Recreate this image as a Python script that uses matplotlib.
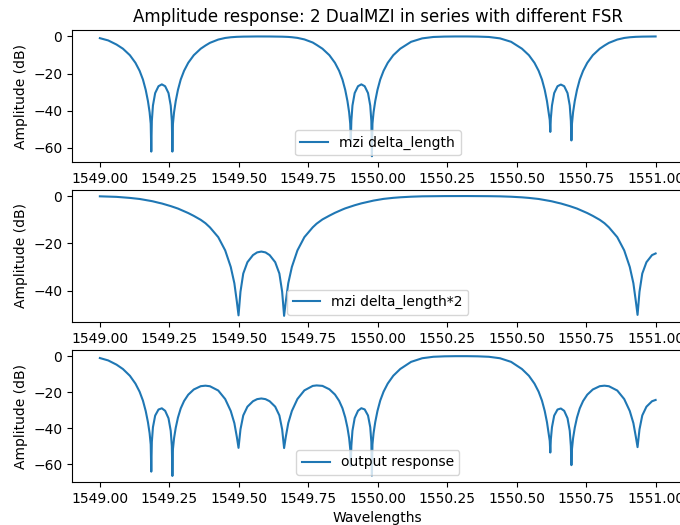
import matplotlib.pyplot as plt

# wavelength samples (nm), denser around the notches
wavelength = [
    1549.000, 1549.030, 1549.060, 1549.083, 1549.108, 1549.128, 1549.143, 1549.155, 1549.165, 1549.173,
    1549.179, 1549.183, 1549.185, 1549.187, 1549.191, 1549.199, 1549.211, 1549.223, 1549.235, 1549.247,
    1549.255, 1549.259, 1549.261, 1549.263, 1549.267, 1549.273, 1549.281, 1549.291, 1549.303, 1549.318,
    1549.338, 1549.363, 1549.380, 1549.396, 1549.426, 1549.451, 1549.471, 1549.484, 1549.493, 1549.499,
    1549.506, 1549.516, 1549.531, 1549.551, 1549.566, 1549.581, 1549.596, 1549.611, 1549.631, 1549.646,
    1549.656, 1549.663, 1549.669, 1549.678, 1549.691, 1549.711, 1549.736, 1549.766, 1549.780, 1549.801,
    1549.826, 1549.846, 1549.861, 1549.873, 1549.883, 1549.891, 1549.897, 1549.901, 1549.903, 1549.905,
    1549.909, 1549.917, 1549.929, 1549.941, 1549.953, 1549.965, 1549.973, 1549.977, 1549.979, 1549.981,
    1549.985, 1549.991, 1549.999, 1550.009, 1550.021, 1550.036, 1550.056, 1550.081, 1550.120, 1550.160,
    1550.200, 1550.240, 1550.280, 1550.320, 1550.360, 1550.400, 1550.440, 1550.480, 1550.519, 1550.544,
    1550.564, 1550.579, 1550.591, 1550.601, 1550.609, 1550.615, 1550.619, 1550.621, 1550.623, 1550.627,
    1550.635, 1550.647, 1550.659, 1550.671, 1550.683, 1550.691, 1550.695, 1550.697, 1550.699, 1550.703,
    1550.709, 1550.717, 1550.727, 1550.739, 1550.754, 1550.774, 1550.799, 1550.816, 1550.832, 1550.862,
    1550.887, 1550.907, 1550.920, 1550.929, 1550.935, 1550.942, 1550.952, 1550.967, 1550.987, 1551.000,
]

# mzi delta_length (dB)
mzi_db = [
    -0.93, -2.15, -4.37, -6.6, -10.1, -14.2, -18.5, -23.2, -28.8, -34.8,
    -40.8, -47.0, -62.0, -45.5, -37.2, -30.5, -26.8, -25.8, -26.8, -30.5,
    -37.2, -45.5, -62.0, -47.0, -40.8, -34.8, -28.8, -23.2, -18.5, -14.2,
    -10.1, -6.6, -4.89, -3.45, -1.68, -0.82, -0.44, -0.27, -0.21, -0.17,
    -0.14, -0.10, -0.06, -0.03, -0.01, 0.0, -0.01, -0.03, -0.05, -0.10,
    -0.13, -0.16, -0.19, -0.26, -0.42, -0.78, -1.6, -3.27, -4.55, -6.6,
    -10.1, -14.2, -18.5, -23.2, -28.8, -34.8, -40.8, -47.0, -56.5, -45.5,
    -37.2, -30.5, -26.8, -25.8, -26.8, -30.5, -37.2, -45.5, -64.5, -47.0,
    -40.8, -34.8, -28.8, -23.2, -18.5, -14.2, -10.1, -6.6, -2.89, -1.04,
    -0.29, -0.08, -0.01, -0.01, -0.08, -0.29, -1.04, -2.89, -6.6, -10.1,
    -14.2, -18.5, -23.2, -28.8, -34.8, -40.8, -45.0, -51.4, -44.0, -37.2,
    -30.5, -26.8, -25.9, -26.8, -30.5, -37.2, -45.5, -56.0, -47.0, -40.8,
    -34.8, -28.8, -23.2, -18.5, -14.2, -10.1, -6.6, -4.89, -3.45, -1.68,
    -0.82, -0.44, -0.27, -0.21, -0.17, -0.14, -0.10, -0.06, -0.03, -0.01,
]

# mzi delta_length*2 (dB)
mzi2_db = [
    -0.12, -0.23, -0.35, -0.55, -0.79, -1.04, -1.24, -1.48, -1.68, -1.84,
    -1.96, -2.05, -2.10, -2.15, -2.25, -2.50, -2.83, -3.15, -3.55, -3.97,
    -4.26, -4.42, -4.50, -4.58, -4.74, -4.98, -5.30, -5.80, -6.40, -7.20,
    -8.40, -10.07, -11.5, -13.25, -17.4, -23.0, -30.0, -36.9, -44.7, -50.5,
    -40.5, -32.8, -28.0, -25.0, -23.85, -23.5, -23.85, -25.0, -28.0, -32.8,
    -40.5, -50.7, -44.7, -36.9, -30.0, -23.0, -17.4, -13.25, -11.7, -9.9,
    -8.3, -7.1, -6.3, -5.7, -5.22, -4.9, -4.66, -4.5, -4.42, -4.34,
    -4.18, -3.9, -3.5, -3.1, -2.77, -2.44, -2.22, -2.1, -2.05, -2.0,
    -1.92, -1.8, -1.64, -1.44, -1.2, -1.01, -0.76, -0.53, -0.28, -0.12,
    -0.06, -0.02, 0.0, 0.0, -0.02, -0.06, -0.13, -0.29, -0.55, -0.79,
    -1.04, -1.24, -1.48, -1.68, -1.84, -1.96, -2.05, -2.10, -2.15, -2.25,
    -2.50, -2.83, -3.15, -3.55, -3.97, -4.26, -4.42, -4.50, -4.58, -4.74,
    -4.98, -5.30, -5.80, -6.40, -7.20, -8.40, -10.07, -11.5, -13.25, -17.4,
    -23.0, -30.0, -36.9, -44.7, -50.3, -40.5, -32.8, -28.0, -25.0, -24.3,
]

# output response (dB)
output_db = [
    -1.05, -2.38, -4.72, -7.15, -10.89, -15.24, -19.74, -24.68, -30.48, -36.64,
    -42.76, -49.05, -64.1, -47.65, -39.45, -33.0, -29.63, -28.95, -30.35, -34.47,
    -41.46, -49.92, -66.5, -51.58, -45.54, -39.78, -34.1, -29.0, -24.9, -21.4,
    -18.5, -16.67, -16.39, -16.7, -19.08, -23.82, -30.44, -37.17, -44.91, -50.9,
    -40.64, -32.9, -28.06, -25.03, -23.86, -23.5, -23.86, -25.03, -28.05, -32.9,
    -40.63, -51.0, -44.89, -37.16, -30.42, -23.78, -19.0, -16.52, -16.25, -16.5,
    -18.4, -21.3, -24.8, -28.9, -34.02, -39.7, -45.46, -51.5, -60.92, -49.84,
    -41.38, -34.4, -30.3, -28.9, -29.57, -32.94, -39.42, -47.6, -66.3, -49.0,
    -42.72, -36.6, -30.44, -24.64, -19.7, -15.21, -10.86, -7.13, -3.17, -1.16,
    -0.35, -0.10, -0.01, -0.01, -0.10, -0.35, -1.17, -3.18, -7.15, -10.89,
    -15.24, -19.74, -24.68, -30.48, -36.64, -42.76, -47.05, -53.5, -46.15, -39.45,
    -33.0, -29.63, -29.05, -30.35, -34.47, -41.46, -49.92, -60.5, -51.58, -45.54,
    -39.78, -34.1, -29.0, -24.9, -21.4, -18.5, -16.67, -16.39, -16.7, -19.08,
    -23.82, -30.44, -37.17, -44.91, -50.5, -40.64, -32.9, -28.06, -25.03, -24.31,
]

series_labels = ["mzi delta_length", "mzi delta_length*2", "output response"]
title = "Amplitude response: 2 DualMZI in series with different FSR"

fig, axes = plt.subplots(3, 1, figsize=(6.8, 5.25), dpi=100)

# axes placement (the original was cropped on the right)
bottoms = [0.691, 0.387, 0.082]
for ax, b, ys, lab in zip(axes, bottoms, [mzi_db, mzi2_db, output_db], series_labels):
    ax.set_position([0.106, b, 0.899, 0.251])
    ax.plot(wavelength, ys, label=lab)
    ax.set_ylabel("Amplitude (dB)")
    ax.legend(loc="lower center")

axes[0].set_title(title)
axes[2].set_xlabel("Wavelengths")

fig.savefig("out.png", dpi=100)
